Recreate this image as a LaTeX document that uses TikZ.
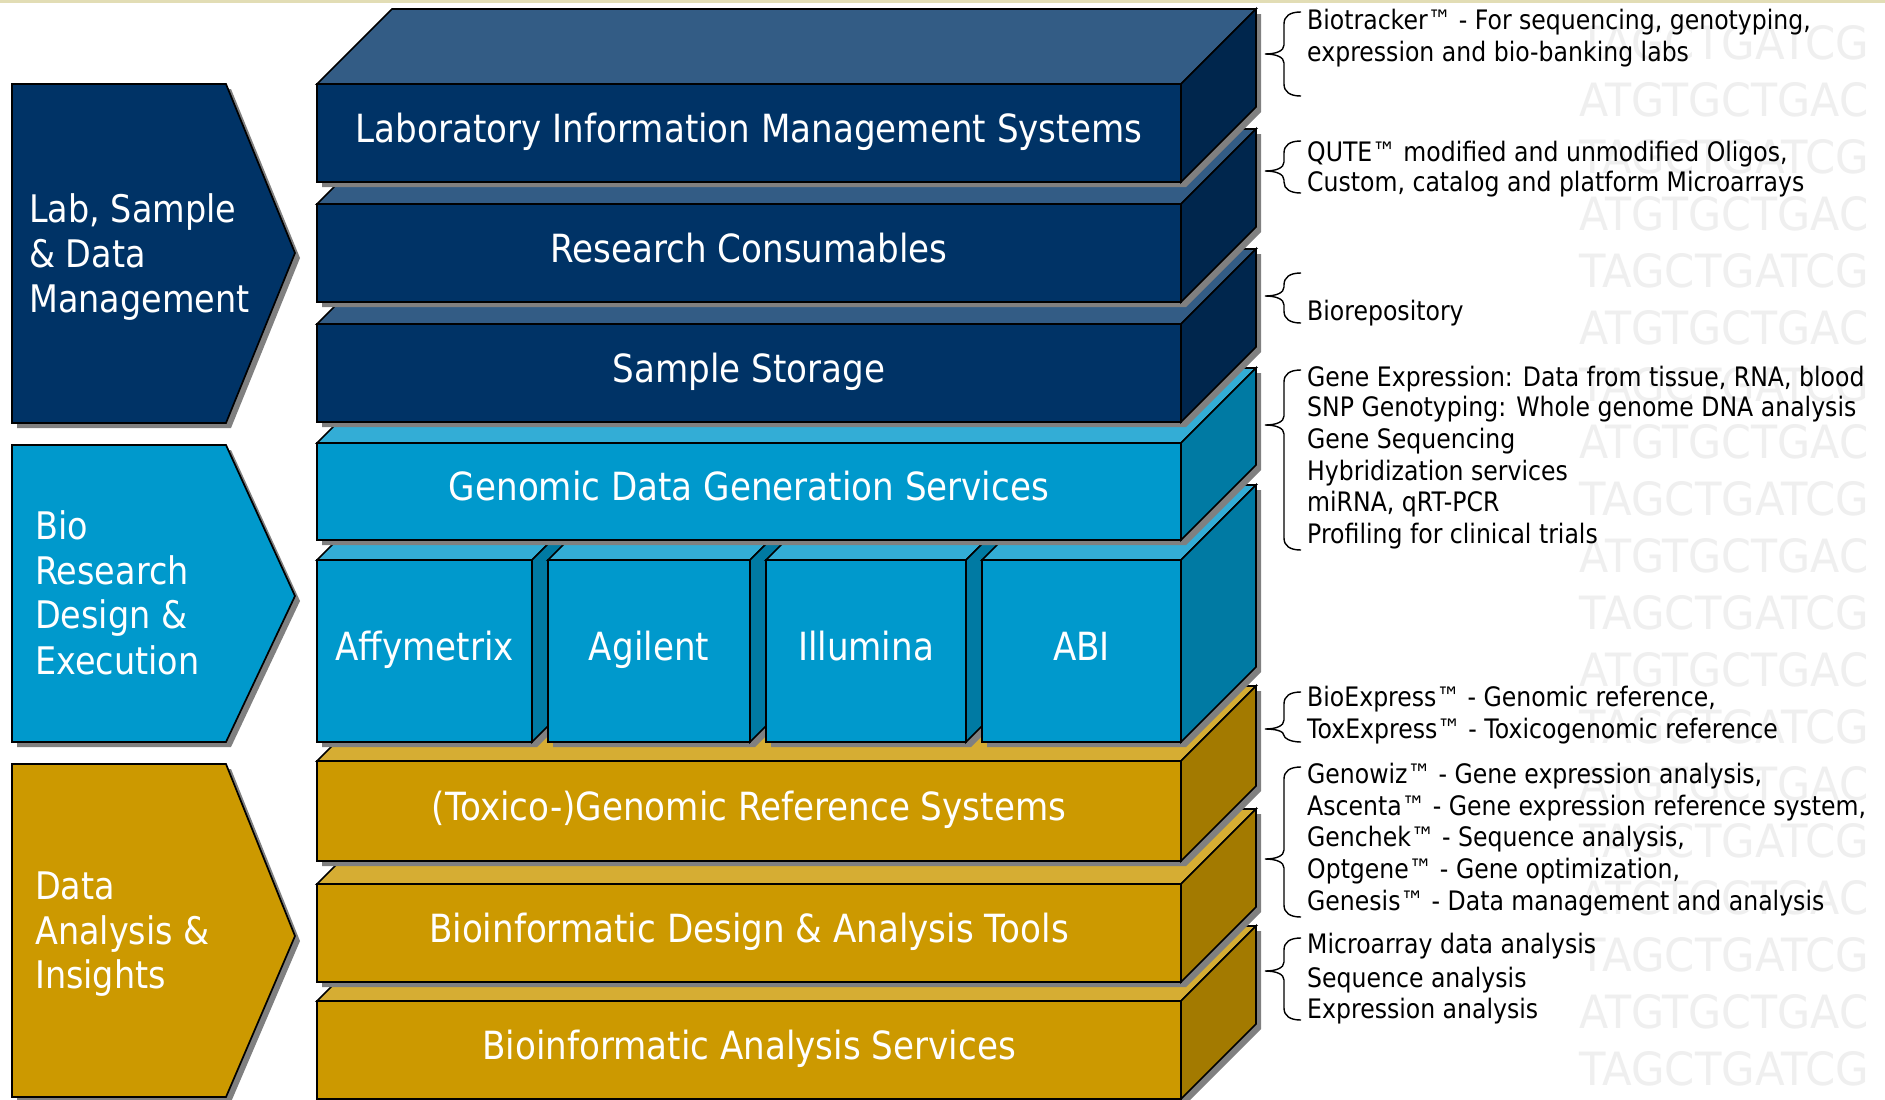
\documentclass[tikz,border=0pt]{standalone}
\usepackage{fontspec}
\setmainfont{DejaVu Sans}[FakeStretch=0.88]
\usepackage{graphicx}
\usetikzlibrary{calc}
\definecolor{navyF}{HTML}{003366}
\definecolor{navyT}{HTML}{335C85}
\definecolor{navyS}{HTML}{00264D}
\definecolor{blueF}{HTML}{0099CC}
\definecolor{blueT}{HTML}{33ADD6}
\definecolor{blueS}{HTML}{007AA3}
\definecolor{goldF}{HTML}{CC9900}
\definecolor{goldT}{HTML}{D6AD33}
\definecolor{goldS}{HTML}{A37A00}
\definecolor{shad}{HTML}{808080}
\definecolor{wmc}{HTML}{EFEFEF}
\definecolor{topline}{HTML}{E2DDB5}
\tikzset{
  edge/.style={draw=black, line width=1.7pt, line join=miter},
  face/.style={edge, inner sep=0pt, outer sep=0pt, text=white,
    font=\fontsize{38.8}{44}\selectfont, text height=27pt, text depth=9pt},
  ctext/.style={anchor=base west, inner sep=0pt, text=white, font=\fontsize{38}{44}\selectfont},
  rtext/.style={anchor=base west, inner sep=0pt, text=black, font=\fontsize{26.8}{32}\selectfont},
  bracestyle/.style={draw=black, line width=1.4pt},
  wmk/.style={anchor=west, inner sep=0pt, text=wmc, font=\fontsize{40}{40}\selectfont}
}
% slab: name, x0, x1, ytop, ybot, colour family, label
\newcommand{\slab}[7]{%
  \fill[shad] ({#2+5},{#4+5}) -- ({#2+80},{#4-70}) -- ({#3+80},{#4-70}) -- ({#3+80},{#5-70}) -- ({#3+5},{#5+5}) -- ({#2+5},{#5+5}) -- cycle;
  \filldraw[edge, fill=#6T] (#2,#4) -- ({#2+75},{#4-75}) -- ({#3+75},{#4-75}) -- (#3,#4) -- cycle;
  \filldraw[edge, fill=#6S] (#3,#4) -- ({#3+75},{#4-75}) -- ({#3+75},{#5-75}) -- (#3,#5) -- cycle;
  \node[face, fill=#6F, minimum width={#3-#2}, minimum height={#5-#4}] (#1) at ({(#2+#3)/2},{(#4+#5)/2}) {#7};
}
% chevron: top, bottom, tip y, colour
\newcommand{\chev}[4]{%
  \fill[shad] (17,{#1+5}) -- (231,{#1+5}) -- (300,{#3+5}) -- (231,{#2+5}) -- (17,{#2+5}) -- cycle;
  \filldraw[edge, fill=#4] (12,#1) -- (226,#1) -- (295,#3) -- (226,#2) -- (12,#2) -- cycle;
}
% brace: top, tip, bottom
\newcommand{\brc}[3]{%
  \draw[bracestyle] (1301,#1) .. controls (1290,#1) and (1284,{#1+4}) .. (1284,{#1+12})
    -- (1284,{#2-min(9,(#2-#1)/2)}) .. controls (1284,{#2-min(3,(#2-#1)/6)}) and (1276,#2) .. (1265,#2)
    .. controls (1276,#2) and (1284,{#2+min(3,(#3-#2)/6)}) .. (1284,{#2+min(9,(#3-#2)/2)})
    -- (1284,{#3-min(12,(#3-#2)/2)}) .. controls (1284,{#3-4}) and (1290,#3) .. (1301,#3);
}
\begin{document}
\begin{tikzpicture}[x=1pt,y=-1pt]
\useasboundingbox (0,0) rectangle (1885,1100);
\fill[white] (0,0) rectangle (1885,1100);
\fill[topline] (0,0) rectangle (1885,3);
% watermark
\begin{scope}
  \clip (1500,4) rectangle (1865,1100);
  \foreach \i in {0,...,18} {
    \node[wmk] (wm\i) at (1579,{43+57*\i}) {\resizebox{290pt}{34pt}{\ifodd\i ATGTGCTGAC\else TAGCTGATCG\fi}};
  }
\end{scope}
% chevrons
\chev{84}{423}{253}{navyF}
\node[ctext] (c1a) at (29,222) {Lab, Sample};
\node[ctext] (c1b) at (29,267) {\& Data};
\node[ctext] (c1c) at (29,312) {Management};
\chev{445}{742}{596}{blueF}
\node[ctext] (c2a) at (35,539) {Bio};
\node[ctext] (c2b) at (35,584) {Research};
\node[ctext] (c2c) at (35,628) {Design \&};
\node[ctext] (c2d) at (35,674) {Execution};
\chev{764}{1097}{936}{goldF}
\node[ctext] (c3a) at (35,899) {Data};
\node[ctext] (c3b) at (35,944) {Analysis \&};
\node[ctext] (c3c) at (35,988) {Insights};
% stack, bottom to top
\slab{analysis}{317}{1181}{1001}{1099}{gold}{Bioinformatic Analysis Services}
\slab{design}{317}{1181}{884}{982}{gold}{Bioinformatic Design \& Analysis Tools}
\slab{toxico}{317}{1181}{761}{861}{gold}{(Toxico-)Genomic Reference Systems}
\slab{affy}{317}{532}{560}{742}{blue}{Affymetrix}
\slab{agilent}{548}{750}{560}{742}{blue}{Agilent}
\slab{illumina}{766}{966}{560}{742}{blue}{Illumina}
\slab{abi}{982}{1181}{560}{742}{blue}{ABI}
\slab{genomic}{317}{1181}{443}{540}{blue}{Genomic Data Generation Services}
\slab{sample}{317}{1181}{324}{422}{navy}{Sample Storage}
\slab{research}{317}{1181}{204}{302}{navy}{Research Consumables}
\slab{lims}{317}{1181}{84}{182}{navy}{Laboratory Information Management Systems}
% braces
\brc{12}{54}{96}
\brc{141}{171}{193}
\brc{273}{296}{323}
\brc{370}{425}{550}
\brc{692}{729}{742}
\brc{767}{859}{917}
\brc{938}{971}{1020}
% right texts
\node[rtext] (t1a) at (1307,29) {Biotracker™ - For sequencing, genotyping,};
\node[rtext] (t1b) at (1307,61) {expression and bio-banking labs};
\node[rtext] (t2a) at (1307,161) {QUTE™ modified and unmodified Oligos,};
\node[rtext] (t2b) at (1307,191) {Custom, catalog and platform Microarrays};
\node[rtext] (t3a) at (1307,320) {Biorepository};
\node[rtext] (t4a) at (1307,386) {Gene Expression: Data from tissue, RNA, blood};
\node[rtext] (t4b) at (1307,416) {SNP Genotyping: Whole genome DNA analysis};
\node[rtext] (t4c) at (1307,448) {Gene Sequencing};
\node[rtext] (t4d) at (1307,480) {Hybridization services};
\node[rtext] (t4e) at (1307,511) {miRNA, qRT-PCR};
\node[rtext] (t4f) at (1307,543) {Profiling for clinical trials};
\node[rtext] (t5a) at (1307,706) {BioExpress™ - Genomic reference,};
\node[rtext] (t5b) at (1307,738) {ToxExpress™ - Toxicogenomic reference};
\node[rtext] (t6a) at (1307,783) {Genowiz™ - Gene expression analysis,};
\node[rtext] (t6b) at (1307,815) {Ascenta™ - Gene expression reference system,};
\node[rtext] (t6c) at (1307,846) {Genchek™ - Sequence analysis,};
\node[rtext] (t6d) at (1307,878) {Optgene™ - Gene optimization,};
\node[rtext] (t6e) at (1307,910) {Genesis™ - Data management and analysis};
\node[rtext] (t7a) at (1307,953) {Microarray data analysis};
\node[rtext] (t7b) at (1307,987) {Sequence analysis};
\node[rtext] (t7c) at (1307,1018) {Expression analysis};
\end{tikzpicture}
\end{document}
